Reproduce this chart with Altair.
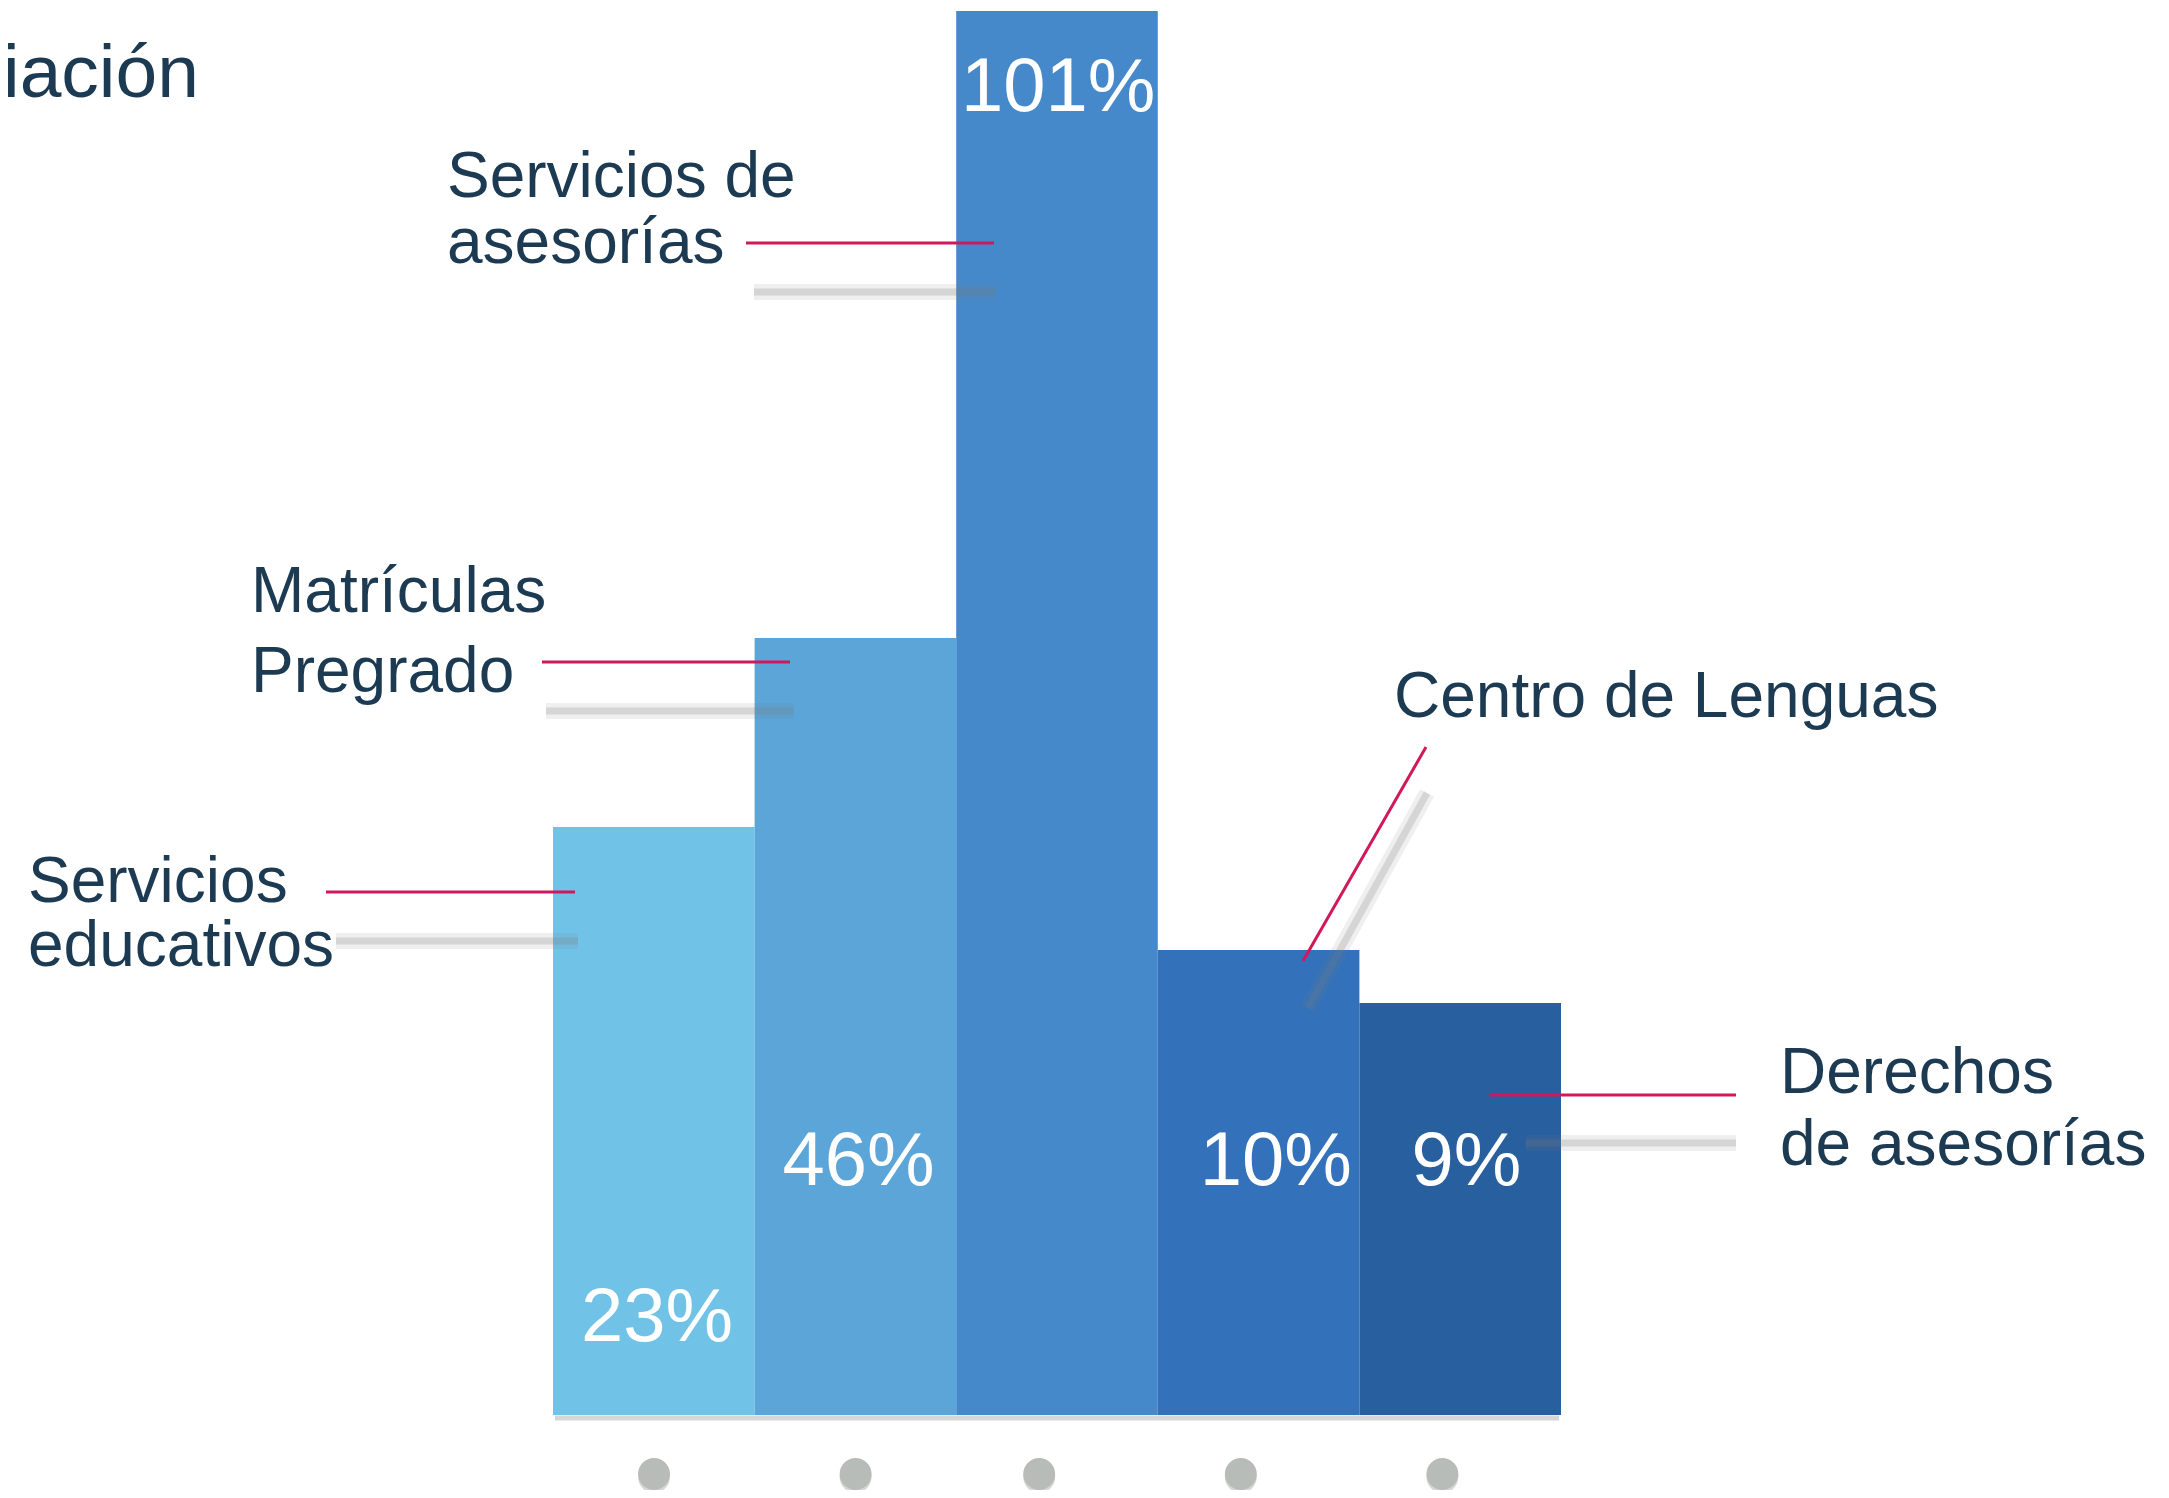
import altair as alt
import pandas as pd

# ---- data ----
categories = ["Servicios educativos", "Matrículas Pregrado", "Servicios de asesorías",
              "Centro de Lenguas", "Derechos de asesorías"]
values = [23, 46, 101, 10, 9]
value_labels = ["23%", "46%", "101%", "10%", "9%"]
bar_colors = ["#71C2E7", "#5BA5D9", "#4689CB", "#3371BA", "#285F9E"]

# ---- layout (pixel positions in chart space) ----
W, H = 2153, 1482
FONT = "Liberation Sans"
NAVY = "#1C3A52"
CRIMSON = "#D0185A"

label_dx = [104, 104, 102, 118, 107]     # offset from band start
label_y = [1333, 1177, 103, 1177, 1177]
dot_dx = [101, 101, 83, 83, 83]

cat_lines = [
    ("Servicios", 20, 894), ("educativos", 20, 958),
    ("Matrículas", 243, 604), ("Pregrado", 243, 684),
    ("Servicios de", 439, 189), ("asesorías", 439, 255),
    ("Centro de Lenguas", 1386, 709),
    ("Derechos", 1772, 1085), ("de asesorías", 1772, 1157),
]
leaders = [
    (318, 884, 567, 884),
    (534, 654, 782, 654),
    (738, 235, 986, 235),
    (1418, 739, 1295, 953),
    (1481, 1087, 1728, 1087),
]
shadows = [
    (328, 933, 570, 933),
    (538, 703, 786, 703),
    (746, 284, 988, 284),
    (1419, 785, 1300, 1000),
    (1518, 1135, 1728, 1135),
]

df = pd.DataFrame({
    "cat": categories, "val": values, "lab": value_labels, "col": bar_colors,
    "dx": label_dx, "ly": label_y, "ddx": dot_dx,
})
df_lines = pd.DataFrame(cat_lines, columns=["t", "x", "y"])
df_lead = pd.DataFrame(leaders, columns=["x1", "y1", "x2", "y2"])
df_shad = pd.DataFrame(shadows, columns=["x1", "y1", "x2", "y2"])

xscale = alt.Scale(domain=categories, range=[545, 1553], paddingInner=0, paddingOuter=0)
yscale = alt.Scale(domain=[0, 9, 10, 23, 46, 101], range=[1407, 995, 942, 819, 630, 3],
                   nice=False, zero=False)

base = alt.Chart(df)

bar_shadow = alt.Chart(pd.DataFrame({"x1": [547], "x2": [1551], "y": [1410]})).mark_rule(
    color="#8A8A8A", opacity=0.35, strokeWidth=5
).encode(x=alt.X("x1:Q", scale=None), x2="x2:Q", y=alt.Y("y:Q", scale=None))

bars = base.mark_bar(stroke=None).encode(
    x=alt.X("cat:N", scale=xscale, axis=None, sort=categories),
    y=alt.Y("val:Q", scale=yscale, axis=None),
    color=alt.Color("col:N", scale=None),
)

shadow_outer = alt.Chart(df_shad).mark_rule(
    color="#7A7A7A", opacity=0.12, strokeWidth=16
).encode(
    x=alt.X("x1:Q", scale=None), y=alt.Y("y1:Q", scale=None),
    x2="x2:Q", y2="y2:Q",
)
shadow_inner = alt.Chart(df_shad).mark_rule(
    color="#7A7A7A", opacity=0.22, strokeWidth=7
).encode(
    x=alt.X("x1:Q", scale=None), y=alt.Y("y1:Q", scale=None),
    x2="x2:Q", y2="y2:Q",
)

leader_rules = alt.Chart(df_lead).mark_rule(color=CRIMSON, strokeWidth=3).encode(
    x=alt.X("x1:Q", scale=None), y=alt.Y("y1:Q", scale=None),
    x2="x2:Q", y2="y2:Q",
)

val_text = base.mark_text(
    font=FONT, fontSize=76, color="white", align="center", baseline="alphabetic"
).encode(
    x=alt.X("cat:N", scale=xscale, axis=None, sort=categories),
    xOffset=alt.XOffset("dx:Q", scale=None),
    y=alt.Y("ly:Q", scale=None),
    text="lab:N",
)

cat_text = alt.Chart(df_lines).mark_text(
    font=FONT, fontSize=64, color=NAVY, align="left", baseline="alphabetic"
).encode(
    x=alt.X("x:Q", scale=None), y=alt.Y("y:Q", scale=None), text="t:N"
)

title_text = alt.Chart(pd.DataFrame({"t": ["iación"], "x": [-5], "y": [89]})).mark_text(
    font=FONT, fontSize=75, color=NAVY, align="left", baseline="alphabetic"
).encode(x=alt.X("x:Q", scale=None), y=alt.Y("y:Q", scale=None), text="t:N")

dot_shadow = base.mark_point(filled=True, shape="circle", size=1018, color="#8C8C8C",
                             opacity=0.35, strokeWidth=0).encode(
    x=alt.X("cat:N", scale=xscale, axis=None, sort=categories),
    xOffset=alt.XOffset("ddx:Q", scale=None),
    y=alt.value(1469),
)
dots = base.mark_point(filled=True, shape="circle", size=1018, color="#B8BCB9",
                       opacity=1, strokeWidth=0).encode(
    x=alt.X("cat:N", scale=xscale, axis=None, sort=categories),
    xOffset=alt.XOffset("ddx:Q", scale=None),
    y=alt.value(1466),
)

chart = alt.layer(
    bar_shadow, bars, shadow_outer, shadow_inner, leader_rules, val_text, cat_text,
    title_text, dot_shadow, dots,
).resolve_scale(x="independent", y="independent").properties(
    width=W, height=H,
    autosize=alt.AutoSizeParams(type="none"),
    padding=0,
    background="white",
).configure_view(stroke=None)

chart.save("out.html", embed_options={"renderer": "svg", "actions": False})
